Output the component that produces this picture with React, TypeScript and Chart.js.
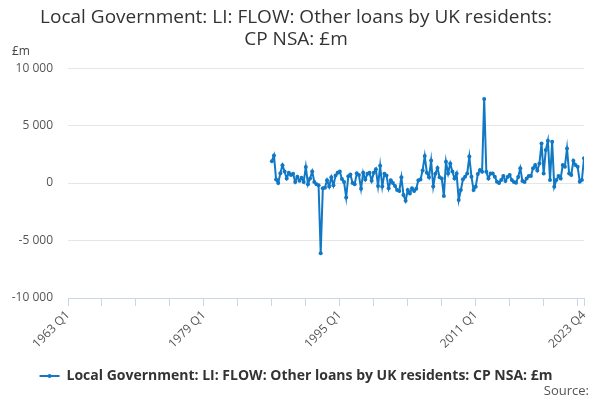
import React, { useEffect, useRef } from "react";
import { Chart, registerables } from "chart.js";

Chart.register(...registerables);

const titleLines = ["Local Government: LI: FLOW: Other loans by UK residents:", "CP NSA: £m"];
const seriesLabel = "Local Government: LI: FLOW: Other loans by UK residents: CP NSA: £m";
const axisStartYear = 1963;
const axisEndYear = 2023;
const firstDataYear = 1987;
const xTickLabels = ["1963 Q1", "1979 Q1", "1995 Q1", "2011 Q1", "2023 Q4"];
const yTicks = [-10000, -5000, 0, 5000, 10000];

// quarterly values from 1987 Q1 to 2023 Q4 (£m)
const values = [
  1900, 2400, 300, 0, 850, 1550, 1000, 400, 900, 700, 800, 100, 550, 200, 450, 100,
  1400, -100, 400, 1000, 100, -100, -200, -6100, -450, -400, 250, -300, 500, -200, 650, 900,
  1000, 350, 100, -1250, 600, 750, 0, -100, 850, 700, -500, 900, 300, 800, 900, 200,
  900, 1200, -250, 1500, -300, 800, 650, -450, 250, 0, -250, -600, -700, 500, -1050, -1550,
  -600, -900, -450, -700, -500, 250, 300, 1100, 2350, 900, 500, 1950, -300, 800, 1300, 500,
  400, -1130, 1850, 840, 1700, 1000, 400, 840, -1480, -600, 320, 550, 840, 2300, 550, -600,
  -320, 780, 1130, 985, 7300, 985, 400, 840, 840, 550, 115, 0, 260, 610, 170, 520,
  700, 260, 100, 30, 520, 1280, 170, 100, 400, 610, 610, 1280, 1565, 1100, 1700, 3450,
  840, 2870, 3680, 260, 3600, -320, 260, 610, 400, 1565, 1420, 3010, 840, 700, 1940, 1565,
  1420, 115, 260, 2150,
];

function quarterLabel(i: number): string {
  const y = axisStartYear + Math.floor(i / 4);
  return `${y} Q${(i % 4) + 1}`;
}

function fmt(v: number): string {
  const s = Math.abs(v).toString().replace(/\B(?=(\d{3})+(?!\d))/g, " ");
  return (v < 0 ? "-" : "") + s;
}

const FONT = "'Open Sans', 'Noto Sans', sans-serif";
const LINE = "rgb(16,120,196)";

export default function App() {
  const ref = useRef<HTMLCanvasElement | null>(null);

  useEffect(() => {
    if (!ref.current) return;
    const offset = (firstDataYear - axisStartYear) * 4;
    const lastIndex = (axisEndYear - axisStartYear) * 4 + 3;
    const labelIdx = xTickLabels.map((l) => {
      const [yy, qq] = l.split(" Q");
      return (Number(yy) - axisStartYear) * 4 + Number(qq) - 1;
    });
    const points = values.map((v, i) => ({ x: offset + i, y: v }));

    const extraText = {
      id: "extraText",
      afterDraw(chart: any) {
        const ctx = chart.ctx;
        ctx.save();
        ctx.fillStyle = "#444";
        ctx.font = `12px ${FONT}`;
        ctx.textAlign = "left";
        ctx.textBaseline = "middle";
        ctx.fillText("£m", 12, 52);
        ctx.fillStyle = "#555";
        ctx.font = `13px ${FONT}`;
        ctx.textAlign = "right";
        ctx.fillText("Source:", 589, 391);
        const lg = chart.legend;
        if (lg && lg.legendHitBoxes && lg.legendHitBoxes[0]) {
          const hb = lg.legendHitBoxes[0];
          ctx.fillStyle = LINE;
          ctx.beginPath();
          ctx.arc(hb.left + 10, hb.top + hb.height / 2, 2, 0, Math.PI * 2);
          ctx.fill();
        }
        ctx.restore();
      },
    };

    const chart = new Chart(ref.current, {
      type: "line",
      data: {
        datasets: [
          {
            label: seriesLabel,
            data: points,
            borderColor: LINE,
            backgroundColor: LINE,
            borderWidth: 2,
            pointRadius: 2,
            pointBorderWidth: 0,
            pointHoverRadius: 3,
            tension: 0,
          },
        ],
      },
      options: {
        animation: false,
        responsive: false,
        devicePixelRatio: 1,
        layout: { padding: { left: 8, right: 16, bottom: 7, top: 0 } },
        plugins: {
          title: {
            display: true,
            text: titleLines,
            color: "#333",
            font: { family: FONT, size: 19, weight: "normal", lineHeight: 1.16 },
            padding: { top: 7, bottom: 17 },
          },
          legend: {
            position: "bottom",
            labels: {
              color: "#333",
              font: { family: FONT, size: 14, weight: "bold" },
              boxWidth: 20,
              boxHeight: 2,
              padding: 10,
              generateLabels(chart: any) {
                const items = Chart.defaults.plugins.legend.labels.generateLabels(chart);
                return items.map((it: any) => ({ ...it, lineWidth: 0 }));
              },
            },
          },
          tooltip: { enabled: false },
        },
        scales: {
          x: {
            type: "linear",
            min: 0,
            max: lastIndex,
            afterBuildTicks(scale: any) {
              const t: any[] = [];
              for (let i = 0; i <= lastIndex; i += 16) t.push({ value: i });
              if (t[t.length - 1].value !== lastIndex) t.push({ value: lastIndex });
              scale.ticks = t;
            },
            afterFit(scale: any) {
              scale.height = 61;
            },
            ticks: {
              autoSkip: false,
              maxRotation: 45,
              minRotation: 45,
              color: "#555",
              font: { family: FONT, size: 12 },
              padding: 2,
              callback: (v: any) => (labelIdx.includes(Number(v)) ? quarterLabel(Number(v)) : ""),
            },
            grid: {
              drawOnChartArea: false,
              drawTicks: true,
              tickLength: 8,
              color: "#ccd6eb",
            },
            border: { display: true, color: "#ccd6eb" },
          },
          y: {
            min: -10000,
            max: 10000,
            afterBuildTicks(scale: any) {
              scale.ticks = yTicks.map((v) => ({ value: v }));
            },
            afterFit(scale: any) {
              scale.width = 60;
            },
            ticks: {
              color: "#555",
              font: { family: FONT, size: 12 },
              padding: 15,
              callback: (v: any) => fmt(Number(v)),
            },
            grid: { color: "#e6e6e6", drawTicks: false, lineWidth: 1 },
            border: { display: false },
          },
        },
      },
      plugins: [extraText],
    } as any);

    return () => chart.destroy();
  }, []);

  return (
    <div style={{ position: "fixed", left: 0, top: 0, width: 600, height: 400, background: "#fff" }}>
      <canvas ref={ref} width={600} height={400} style={{ width: 600, height: 400 }} />
    </div>
  );
}
